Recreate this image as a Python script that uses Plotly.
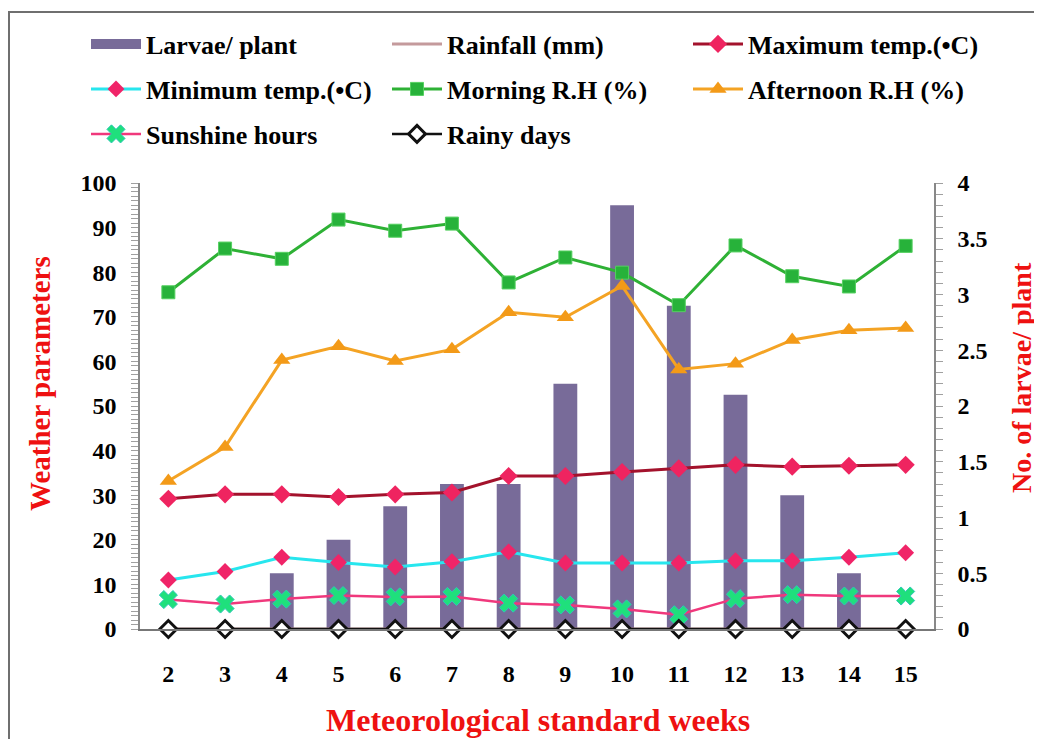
import plotly.graph_objects as go

weeks = [2, 3, 4, 5, 6, 7, 8, 9, 10, 11, 12, 13, 14, 15]
week_labels = [str(w) for w in weeks]
larvae_per_plant = [0, 0, 0.5, 0.8, 1.1, 1.3, 1.3, 2.2, 3.8, 2.9, 2.1, 1.2, 0.5, 0]
rainfall_mm = [0, 0, 0, 0, 0, 0, 0, 0, 0, 0, 0, 0, 0, 0]
max_temp = [29.2, 30.2, 30.2, 29.6, 30.2, 30.6, 34.3, 34.3, 35.2, 36.0, 36.8, 36.4, 36.6, 36.8]
min_temp = [11.0, 12.9, 16.1, 14.9, 13.9, 15.1, 17.3, 14.8, 14.8, 14.8, 15.3, 15.3, 16.1, 17.1]
morning_rh = [75.5, 85.3, 83.0, 91.8, 89.3, 90.9, 77.7, 83.3, 79.9, 72.6, 86.0, 79.1, 76.8, 85.9]
afternoon_rh = [33.2, 40.8, 60.3, 63.4, 60.1, 62.7, 71.0, 69.9, 76.9, 58.2, 59.5, 64.8, 67.0, 67.5]
sunshine_hours = [6.6, 5.6, 6.7, 7.5, 7.2, 7.3, 5.8, 5.4, 4.5, 3.2, 6.8, 7.7, 7.4, 7.4]
rainy_days = [0, 0, 0, 0, 0, 0, 0, 0, 0, 0, 0, 0, 0, 0]

left_ticks = [0, 10, 20, 30, 40, 50, 60, 70, 80, 90, 100]
right_ticks = [0, 0.5, 1, 1.5, 2, 2.5, 3, 3.5, 4]
right_tick_labels = ["0", "0.5", "1", "1.5", "2", "2.5", "3", "3.5", "4"]

BAR = "#786b99"
FONT = "Liberation Serif"

# page body has an 8px margin: the figure is placed at (8, 8) in the window
OFF = 8
W, H = 1042 - OFF, 747 - 2 * OFF
PL, PR, PT, PB = 140, 934, 183, 629          # plot area in window pixels
L, R, T, B = PL - OFF, W - (PR - OFF), PT - OFF, H - (PB - OFF)
PW, PH = PR - PL, PB - PT


def px(x):
    return (x - PL) / PW


def py(y):
    return (PB - y) / PH


fig = go.Figure()

# bars on the primary (right side) axis so that the lines are drawn above them
fig.add_trace(go.Bar(x=weeks, y=larvae_per_plant, width=0.42, marker=dict(color=BAR, line=dict(width=0)),
                     name="Larvae/ plant", showlegend=False, yaxis="y"))


def line(name, y, lc, lw, sym, ms, mc, mlc=None, mlw=0, legend="legend"):
    fig.add_trace(go.Scatter(x=weeks, y=y, name=name, mode="lines+markers", yaxis="y2",
                             line=dict(color=lc, width=lw), cliponaxis=False,
                             marker=dict(symbol=sym, size=ms, color=mc,
                                         line=dict(color=mlc or mc, width=mlw)),
                             legend=legend))


# legend-only entry for the bar series (wide swatch like the reference)
fig.add_trace(go.Scatter(x=[None], y=[None], name="Larvae/ plant", mode="lines", yaxis="y2",
                         line=dict(color=BAR, width=11), legend="legend"))
fig.add_trace(go.Scatter(x=weeks, y=rainfall_mm, name="Rainfall (mm)", mode="lines", yaxis="y2",
                         line=dict(color="#c49a9c", width=3), cliponaxis=False, legend="legend"))
line("Maximum temp.(•C)", max_temp, "#a3122c", 3, "diamond", 14, "#ef2460", legend="legend")
line("Minimum temp.(•C)", min_temp, "#27e6ee", 3, "diamond", 13, "#f02468", legend="legend2")
line("Morning R.H (%)", morning_rh, "#2eb135", 3, "square", 13, "#27b23a", "#55d060", 1, legend="legend2")
line("Afternoon R.H (%)", afternoon_rh, "#f4a324", 3, "triangle-up", 15, "#f39a18", legend="legend2")
line("Sunshine hours", sunshine_hours, "#f0387c", 2.5, "x", 16, "#1fe07c", "#2fc8b8", 1, legend="legend3")
line("Rainy days", rainy_days, "#111111", 2.5, "diamond", 13, "#ffffff", "#111111", 3, legend="legend3")

legend_common = dict(orientation="h", xref="paper", yref="paper", xanchor="left", yanchor="middle",
                     x=px(86), font=dict(family=FONT, size=26, color="black", weight="bold"),
                     itemwidth=50, entrywidth=236, entrywidthmode="pixels", bgcolor="rgba(0,0,0,0)",
                     traceorder="normal", itemclick=False)

tick_font = dict(family=FONT, size=24, color="black", weight="bold")

fig.update_layout(
    width=W, height=H,
    margin=dict(l=L, r=R, t=T, b=B, autoexpand=False),
    paper_bgcolor="white", plot_bgcolor="white",
    font=dict(family=FONT, size=24, color="black", weight="bold"),
    barmode="overlay",
    xaxis=dict(range=[1.5, 15.5], tickmode="array", tickvals=weeks, ticktext=week_labels,
               showgrid=False, zeroline=False, showline=True, linecolor="#777777", linewidth=1.5,
               ticks="", ticklabelstandoff=22, tickfont=tick_font),
    yaxis=dict(range=[0, 4], side="right", tickmode="array", tickvals=right_ticks, ticktext=right_tick_labels,
               showgrid=False, zeroline=False, showline=True, linecolor="#888888", linewidth=1.5,
               ticks="outside", ticklen=7, tickcolor="#a0a0a0", ticklabelstandoff=10,
               minor=dict(dtick=0.1, ticks="outside", ticklen=7, tickcolor="#a0a0a0"),
               tickfont=tick_font),
    yaxis2=dict(range=[0, 100], side="left", overlaying="y", tickmode="array", tickvals=left_ticks,
                showgrid=False, zeroline=False, showline=True, linecolor="#888888", linewidth=1.5,
                ticks="outside", ticklen=7, tickcolor="#a0a0a0", ticklabelstandoff=10,
                minor=dict(dtick=1, ticks="outside", ticklen=7, tickcolor="#a0a0a0"),
                tickfont=tick_font),
    legend=dict(legend_common, y=py(44)),
    legend2=dict(legend_common, y=py(89)),
    legend3=dict(legend_common, y=py(134)),
    showlegend=True,
)

title_font = dict(family=FONT, size=28, color="#ee1111", weight="bold")
fig.add_annotation(text="Weather parameters", xref="paper", yref="paper",
                   x=px(40), y=py(384), textangle=-90,
                   showarrow=False, font=dict(title_font, size=29), xanchor="center", yanchor="middle")
fig.add_annotation(text="No. of larvae/ plant", xref="paper", yref="paper",
                   x=px(1021), y=py(378), textangle=-90,
                   showarrow=False, font=title_font, xanchor="center", yanchor="middle")
fig.add_annotation(text="Meteorological standard weeks", xref="paper", yref="paper",
                   x=px(538), y=py(720),
                   showarrow=False, font=dict(title_font, size=32), xanchor="center", yanchor="middle")

# outer frame of the figure
fig.add_shape(type="rect", xref="paper", yref="paper",
              x0=px(9), x1=px(1080), y0=py(800), y1=py(12),
              line=dict(color="#6f6f6f", width=2), fillcolor="rgba(0,0,0,0)", layer="below")

fig.write_html("out.html")
